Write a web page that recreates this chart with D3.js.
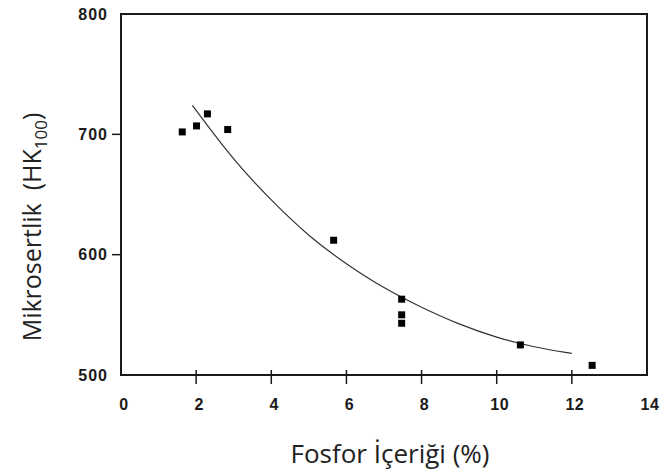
<!DOCTYPE html>
<html>
<head>
<meta charset="utf-8">
<script src="https://cdn.jsdelivr.net/npm/d3@7"></script>
<style>
  body { margin: 0; background: #fff; }
  svg { display: block; }
</style>
</head>
<body>
<div id="chart"></div>
<script>
// measured points (phosphorus %, microhardness)
const phosphorus = [1.63, 2.01, 2.30, 2.84, 5.66, 7.47, 7.47, 7.47, 10.63, 12.54];
const hardness = [702, 707, 717, 704, 612, 563, 550, 543, 525, 508];

// trend curve
const curveX = [1.9, 3, 4, 5, 6, 7, 8, 9, 10, 11, 12];
const curveY = [724, 678, 645, 615, 592, 572, 556, 542, 531, 523, 518];

const xTicks = [0, 2, 4, 6, 8, 10, 12, 14];
const yTicks = [500, 600, 700, 800];

const width = 661, height = 475;

const svg = d3.select("#chart")
    .append("svg")
    .attr("width", width)
    .attr("height", height);

const x = d3.scaleLinear().domain([0, 14]).range([121, 647]);
const y = d3.scaleLinear().domain([500, 800]).range([375, 14]);

const ink = "#1a1a1a";

// frame
svg.append("rect")
    .attr("x", x(0))
    .attr("y", y(800))
    .attr("width", x(14) - x(0))
    .attr("height", y(500) - y(800))
    .attr("fill", "none")
    .attr("stroke", ink)
    .attr("stroke-width", 2);

// x ticks crossing the bottom axis
svg.selectAll(".xtick")
    .data(xTicks.filter(d => d > 0 && d < 14))
    .enter()
    .append("line")
    .attr("x1", d => x(d))
    .attr("x2", d => x(d))
    .attr("y1", y(500) - 5)
    .attr("y2", y(500) + 9)
    .attr("stroke", ink)
    .attr("stroke-width", 1.5);

svg.selectAll(".xlabel")
    .data(xTicks)
    .enter()
    .append("text")
    .attr("x", d => x(d) + 3)
    .attr("y", y(500) + 35)
    .attr("text-anchor", "middle")
    .attr("font-family", "Liberation Sans, Arial, sans-serif")
    .attr("font-weight", "bold")
    .attr("font-size", "16px")
    .attr("letter-spacing", "0.5px")
    .attr("fill", ink)
    .text(d => d);

// y ticks outside left
svg.selectAll(".ytick")
    .data(yTicks.filter(d => d > 500 && d < 800))
    .enter()
    .append("line")
    .attr("x1", x(0) - 9)
    .attr("x2", x(0))
    .attr("y1", d => y(d))
    .attr("y2", d => y(d))
    .attr("stroke", ink)
    .attr("stroke-width", 1.5);

svg.selectAll(".ylabel")
    .data(yTicks)
    .enter()
    .append("text")
    .attr("x", x(0) - 13)
    .attr("y", d => y(d))
    .attr("dy", "0.36em")
    .attr("text-anchor", "end")
    .attr("font-family", "Liberation Sans, Arial, sans-serif")
    .attr("font-weight", "bold")
    .attr("font-size", "16px")
    .attr("letter-spacing", "1px")
    .attr("fill", ink)
    .text(d => d);

// trend curve
const line = d3.line()
    .x(d => x(d[0]))
    .y(d => y(d[1]))
    .curve(d3.curveBasis);

svg.append("path")
    .datum(curveX.map((v, i) => [v, curveY[i]]))
    .attr("fill", "none")
    .attr("stroke", "#333")
    .attr("stroke-width", 1.2)
    .attr("d", line);

// points
svg.selectAll(".pt")
    .data(phosphorus.map((v, i) => [v, hardness[i]]))
    .enter()
    .append("rect")
    .attr("x", d => x(d[0]) - 3.5)
    .attr("y", d => y(d[1]) - 3.5)
    .attr("width", 7)
    .attr("height", 7)
    .attr("fill", "#000");

// axis titles
svg.append("text")
    .attr("x", 390)
    .attr("y", 463)
    .attr("text-anchor", "middle")
    .attr("font-family", "Open Sans, sans-serif")
    .attr("font-size", "26px")
    .attr("fill", "#222")
    .text("Fosfor İçeriği (%)");

const yt = svg.append("text")
    .attr("transform", "translate(41,227) rotate(-90)")
    .attr("text-anchor", "middle")
    .attr("font-family", "Open Sans, sans-serif")
    .attr("font-size", "25px")
    .attr("fill", "#222");
yt.append("tspan").text("Mikrosertlik\u00a0\u00a0(HK");
yt.append("tspan").attr("font-size", "17px").attr("dy", 6).text("100");
yt.append("tspan").attr("dy", -6).text(")");
</script>
</body>
</html>
